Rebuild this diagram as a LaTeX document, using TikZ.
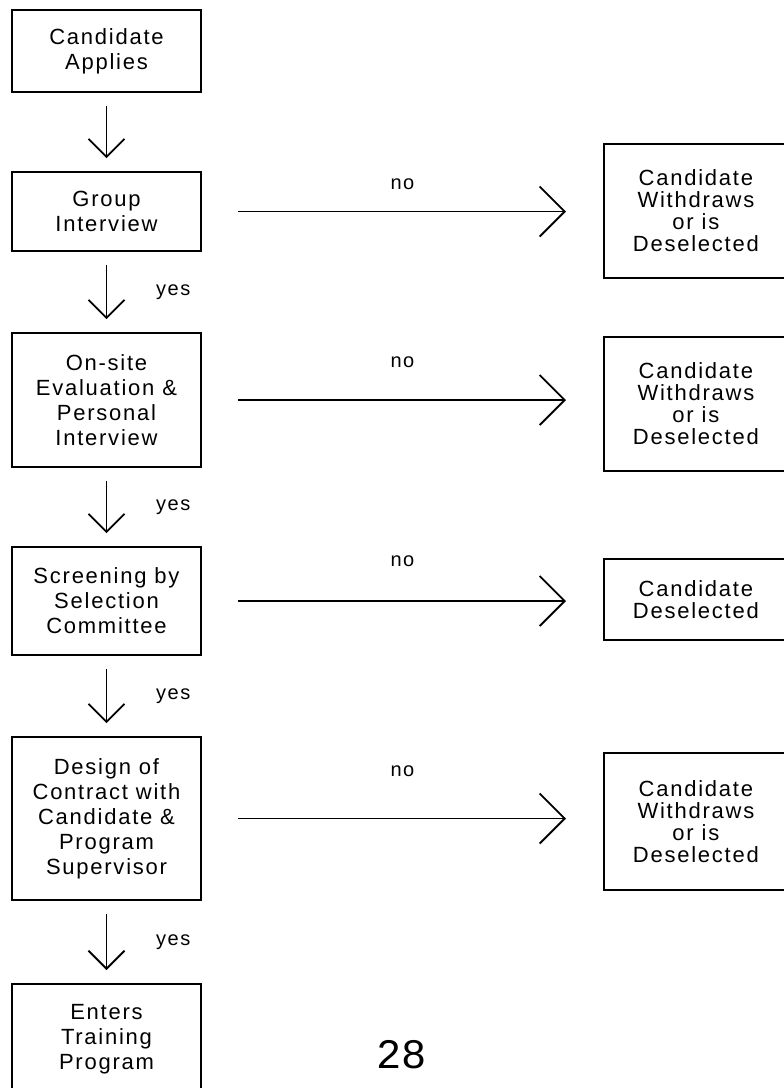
\documentclass[tikz,border=0pt]{standalone}
\usepackage{fontspec}
\setmainfont{Liberation Sans}[LetterSpace=8]
\newfontfamily\pagefont{Liberation Mono}
\usetikzlibrary{arrows.meta}

\tikzset{
  stage/.style={draw, line width=0.9pt, minimum width=94.5pt, align=center,
    inner sep=2pt, font=\fontsize{11}{12.5}\selectfont},
  outcome/.style={draw, line width=0.9pt, minimum width=92pt, anchor=west,
    align=center, inner sep=2pt, font=\fontsize{11}{11}\selectfont},
  yesarrow/.style={line width=0.9pt, -{Straight Barb[length=9pt,width=18pt]},
    shorten <=6.5pt, shorten >=6.5pt},
  noarrow/.style={line width=0.9pt, -{Straight Barb[length=12.5pt,width=25pt]},
    shorten <=18pt, shorten >=18.5pt},
  tag/.style={font=\fontsize{10}{12}\selectfont}
}

\begin{document}
\begin{tikzpicture}[x=0.5pt, y=-0.5pt]
    \useasboundingbox (0,0) rectangle (783,1088);

    % Stages down the left side
    \node[stage, minimum height=41pt]   (b1) at (106.5,51)    {Candidate\\Applies};
    \node[stage, minimum height=39.5pt] (b2) at (106.5,211.5) {Group\\Interview};
    \node[stage, minimum height=67pt]   (b3) at (106.5,400)   {On-site\\Evaluation \&\\Personal\\Interview};
    \node[stage, minimum height=54pt]   (b4) at (106.5,601)   {Screening by\\Selection\\Committee};
    \node[stage, minimum height=81.5pt] (b5) at (106.5,818.5) {Design of\\Contract with\\Candidate \&\\Program\\Supervisor};
    \node[stage, minimum height=55pt, anchor=north] (b6) at (106.5,983) {Enters\\Training\\Program};

    % Outcomes on the right side
    \node[outcome, minimum height=67pt]   (r1) at (603,211)   {Candidate\\Withdraws\\or is\\Deselected};
    \node[outcome, minimum height=67pt]   (r2) at (603,404)   {Candidate\\Withdraws\\or is\\Deselected};
    \node[outcome, minimum height=40.5pt] (r3) at (603,599.5) {Candidate\\Deselected};
    \node[outcome, minimum height=68.5pt] (r4) at (603,821.5) {Candidate\\Withdraws\\or is\\Deselected};

    % Down arrows, "yes" beside all but the first
    \draw[yesarrow] (b1) -- (b2);
    \foreach \a/\b in {b2/b3, b3/b4, b4/b5, b5/b6} {
        \draw[yesarrow] (\a) -- node[tag, right=21pt] {yes} (\b);
    }

    % Across arrows with "no" above
    \foreach \a/\b/\h in {b2/r1/13.5, b3/r2/19, b4/r3/20, b5/r4/23.5} {
        \draw[noarrow] (\a.east) -- node[tag, yshift=\h pt] {no} (\a.east -| \b.west);
    }

    % Page number
    \node[font=\pagefont\fontsize{21}{24}\selectfont] (pg) at (402,1055) {28};

\end{tikzpicture}
\end{document}
